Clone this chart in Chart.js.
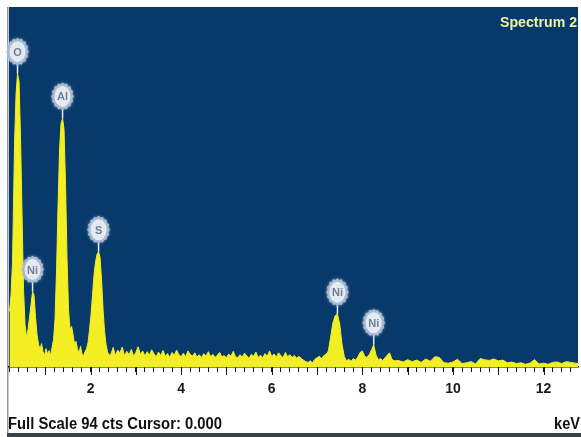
<!DOCTYPE html>
<html>
<head>
<meta charset="utf-8">
<script src="https://cdn.jsdelivr.net/npm/chart.js@4.4.1/dist/chart.umd.min.js"></script>
<style>
  html, body { margin: 0; padding: 0; background: #fff; }
  #wrap { width: 581px; height: 437px; }
</style>
</head>
<body>
<div id="wrap"><canvas id="spectrum" width="581" height="437"></canvas></div>
<script>
// energy (keV) and counts
const energies = [
  0.21, 0.245, 0.278, 0.30, 0.322, 0.355, 0.388, 0.422, 0.455, 0.488, 0.521, 0.554, 0.588, 0.62, 0.653,
  0.687, 0.72, 0.753, 0.786, 0.819, 0.852, 0.885, 0.918, 0.951, 0.985, 1.018, 1.051, 1.084, 1.117, 1.15,
  1.183, 1.216, 1.25, 1.283, 1.316, 1.349, 1.382, 1.415, 1.448, 1.481, 1.514, 1.547, 1.581, 1.614, 1.647,
  1.68, 1.713, 1.746, 1.779, 1.812, 1.846, 1.879, 1.912, 1.945, 1.978, 2.011, 2.044, 2.077, 2.111, 2.144,
  2.177, 2.21, 2.243, 2.276, 2.309, 2.342, 2.375, 2.408,
  2.45, 2.50, 2.55, 2.60, 2.65, 2.70, 2.75, 2.80, 2.85, 2.90, 2.95, 3.00, 3.05, 3.10, 3.15, 3.20, 3.25,
  3.30, 3.35, 3.40, 3.45, 3.50, 3.55, 3.60, 3.65, 3.70, 3.75, 3.80, 3.85, 3.90, 3.95, 4.00, 4.05, 4.10,
  4.15, 4.20, 4.25, 4.30, 4.35, 4.40, 4.45, 4.50, 4.55, 4.60, 4.65, 4.70, 4.75, 4.80, 4.85, 4.90, 4.95,
  5.00, 5.05, 5.10, 5.15, 5.20, 5.25, 5.30, 5.35, 5.40, 5.45, 5.50, 5.55, 5.60, 5.65, 5.70, 5.75, 5.80,
  5.85, 5.90, 5.95, 6.00, 6.05, 6.10, 6.15, 6.20, 6.25, 6.30, 6.35, 6.40, 6.45, 6.50, 6.55, 6.60, 6.65,
  6.70, 6.75, 6.80, 6.85, 6.90, 6.95, 7.00, 7.05, 7.10, 7.15, 7.20, 7.25, 7.30, 7.35, 7.40, 7.45, 7.50,
  7.55, 7.60, 7.65, 7.70, 7.75, 7.80, 7.85, 7.90, 7.95, 8.00, 8.05, 8.10, 8.15, 8.20, 8.25, 8.30, 8.35,
  8.40, 8.45, 8.50, 8.55, 8.60, 8.65, 8.70,
  8.8, 8.9, 9.0, 9.1, 9.2, 9.3, 9.4, 9.5, 9.6, 9.7, 9.8, 9.9, 10.0, 10.1, 10.2, 10.3, 10.4, 10.5, 10.6,
  10.7, 10.8, 10.9, 11.0, 11.1, 11.2, 11.3, 11.4, 11.5, 11.6, 11.7, 11.8, 11.9, 12.0, 12.1, 12.2, 12.3,
  12.4, 12.5, 12.6, 12.7, 12.8
];
const counts = [
  14.5, 18.9, 27.5, 42.4, 58.1, 71.1, 76.6, 74.5, 59.4, 39.8, 20.2, 11.1, 7.7, 9.8, 12.9,
  16.3, 19.7, 18.7, 12.9, 8.5, 5.9, 4.6, 6.1, 4.0, 3.0, 4.8, 3.3, 4.3, 3.0, 5.1,
  7.2, 12.4, 25.4, 42.4, 56.8, 63.6, 64.9, 62.0, 47.6, 28.1, 15.0, 9.8, 10.6, 8.5, 5.9,
  6.7, 4.6, 3.8, 5.4, 3.3, 3.0, 4.0, 4.8, 6.4, 9.8, 13.7, 18.9, 24.1, 27.5, 29.4,
  30.1, 28.6, 22.8, 15.0, 9.3, 5.9, 4.0, 3.0,
  3.4, 5.1, 3.0, 4.4, 3.7, 5.2, 2.9, 4.1, 3.2, 4.6, 2.8, 3.8, 5.3, 3.3, 4.2, 2.9, 4.0,
  3.1, 4.5, 3.4, 2.7, 3.9, 3.0, 4.3, 2.8, 3.5, 2.5, 3.8, 3.1, 4.4, 3.2, 2.7, 3.6, 2.6,
  4.2, 3.3, 2.8, 3.7, 2.6, 3.2, 2.5, 3.5, 2.9, 4.0, 2.7, 3.3, 2.5, 3.1, 3.8, 2.6, 3.0,
  2.4, 3.4, 2.8, 4.1, 2.7, 2.4, 3.2, 2.6, 3.6, 2.9, 2.3, 3.3, 2.8, 3.9, 2.5, 3.1, 2.4,
  3.5, 2.8, 4.2, 2.7, 3.4, 2.6, 3.7, 3.0, 2.4, 3.8, 2.7, 3.2, 2.5, 3.0, 2.3, 2.8, 2.2,
  1.8, 1.4, 1.2, 1.6, 1.1, 2.0, 2.4, 2.8, 2.2, 3.0, 3.3, 4.2, 7.8, 11.5, 13.4, 13.8, 11.2,
  6.0, 2.8, 1.6, 2.0, 1.5, 2.2, 1.8, 2.6, 3.8, 4.2, 2.8, 2.5, 3.2, 4.4, 5.8, 3.2, 1.9,
  2.2, 1.7, 2.4, 3.1, 3.7, 2.1, 1.6,
  1.7, 1.3, 1.9, 1.4, 1.8, 1.2, 2.1, 1.5, 2.7, 2.5, 1.1, 1.0, 1.3, 2.0, 0.9, 1.1, 1.4, 0.8, 2.2,
  1.9, 1.7, 2.1, 1.6, 1.8, 1.1, 1.3, 0.9, 1.1, 0.7, 1.0, 1.9, 0.8, 1.0, 0.7, 1.2, 1.3,
  0.9, 1.4, 1.2, 1.0, 0.9
];

// element markers
const peakNames = ['O', 'Ni', 'Al', 'S', 'Ni', 'Ni'];
const peakEnergies = [0.388, 0.72, 1.382, 2.177, 7.45, 8.25];
const peakCounts = [76.6, 19.7, 64.9, 30.1, 13.8, 5.8];

// axis
const tickLabels = [2, 4, 6, 8, 10, 12];
const majorTicks = [1, 2, 3, 4, 5, 6, 7, 8, 9, 10, 11, 12];
const fullScale = 94;

const PLOT_BG = '#08396b';
const YELLOW = '#f3ef22';
const SANS = '"Liberation Sans", Arial, sans-serif';

function scallop(ctx, cx, cy, rx, ry) {
    ctx.beginPath();
    const n = 16;
    for (let i = 0; i <= n * 2; i++) {
        const a = i / (n * 2) * Math.PI * 2;
        const k = i % 2 ? 0 : 1.4;
        const px = cx + Math.cos(a) * (rx + k), py = cy + Math.sin(a) * (ry + k);
        if (i === 0) ctx.moveTo(px, py); else ctx.lineTo(px, py);
    }
    ctx.closePath();
}

// narrow text: squeeze a bold face to a target width
function squeezed(ctx, text, x, y, width, align) {
    const w = ctx.measureText(text).width;
    const s = width / w;
    ctx.save();
    ctx.translate(align === 'right' ? x - width : x, y);
    ctx.scale(s, 1);
    ctx.textAlign = 'left';
    ctx.fillText(text, 0, 0);
    ctx.restore();
}

const spectrumDecor = {
    id: 'spectrumDecor',
    beforeDraw(chart) {
        const { ctx, chartArea: a } = chart;
        ctx.save();
        ctx.fillStyle = '#fff';
        ctx.fillRect(0, 0, chart.width, chart.height);
        ctx.fillStyle = PLOT_BG;
        ctx.fillRect(a.left, a.top, a.right - a.left, a.bottom - a.top);
        // grey frame on the left and along the bottom
        ctx.fillStyle = '#8d959e';
        ctx.fillRect(a.left - 2, a.top, 1.5, chart.height - a.top);
        ctx.fillStyle = '#3c4148';
        ctx.fillRect(a.left - 2, chart.height - 4, chart.width, 4);
        ctx.restore();
    },
    afterDatasetsDraw(chart) {
        const { ctx, chartArea: a } = chart;
        const x = chart.scales.x, y = chart.scales.y;
        ctx.save();
        peakNames.forEach((name, i) => {
            const px = x.getPixelForValue(peakEnergies[i]);
            const py = y.getPixelForValue(peakCounts[i]);
            const cy = py - 22;
            ctx.strokeStyle = '#e6edf5';
            ctx.lineWidth = 1.5;
            ctx.beginPath();
            ctx.moveTo(px, cy + 12);
            ctx.lineTo(px, py);
            ctx.stroke();
            ctx.shadowColor = 'rgba(220,232,245,0.6)';
            ctx.shadowBlur = 3;
            ctx.fillStyle = '#a9bad0';
            scallop(ctx, px, cy, 10, 12.5);
            ctx.fill();
            ctx.shadowBlur = 0;
            ctx.fillStyle = '#e4eaf1';
            ctx.beginPath();
            ctx.ellipse(px, cy, 8, 10.5, 0, 0, Math.PI * 2);
            ctx.fill();
            ctx.fillStyle = '#717f90';
            ctx.font = 'bold 11px ' + SANS;
            ctx.textAlign = 'center';
            ctx.textBaseline = 'middle';
            ctx.fillText(name, px, cy + 1);
        });
        ctx.fillStyle = '#eef2a6';
        ctx.font = 'bold 14px ' + SANS;
        ctx.textBaseline = 'alphabetic';
        squeezed(ctx, 'Spectrum 2', a.right - 1, a.top + 20, 77, 'right');
        ctx.restore();
    },
    afterDraw(chart) {
        const { ctx, chartArea: a } = chart;
        const x = chart.scales.x;
        ctx.save();
        ctx.strokeStyle = '#111';
        ctx.lineWidth = 1;
        majorTicks.forEach(v => {
            const px = Math.round(x.getPixelForValue(v)) + 0.5;
            ctx.beginPath();
            ctx.moveTo(px, a.bottom);
            ctx.lineTo(px, a.bottom + 8);
            ctx.stroke();
        });
        ctx.fillStyle = '#111';
        ctx.font = 'bold 16px ' + SANS;
        ctx.textBaseline = 'alphabetic';
        squeezed(ctx, 'Full Scale ' + fullScale + ' cts Cursor: 0.000', 8, 429, 214, 'left');
        squeezed(ctx, 'keV', chart.width - 1, 429, 26, 'right');
        ctx.restore();
    }
};

new Chart(document.getElementById('spectrum'), {
    type: 'line',
    data: {
        datasets: [{
            data: energies.map((e, i) => ({ x: e, y: counts[i] })),
            borderColor: YELLOW,
            backgroundColor: YELLOW,
            borderWidth: 1,
            fill: 'origin',
            pointRadius: 0,
            tension: 0
        }]
    },
    options: {
        responsive: false,
        animation: false,
        layout: { padding: { left: 9, right: 3, top: 7, bottom: 10 } },
        plugins: { legend: { display: false }, tooltip: { enabled: false } },
        scales: {
            x: {
                type: 'linear',
                min: 0.2,
                max: 12.76,
                afterFit: (scale) => { scale.height = 60; },
                grid: { drawOnChartArea: false, tickLength: 5, color: '#111', lineWidth: 1 },
                border: { display: true, color: '#000', width: 1.5 },
                ticks: {
                    stepSize: 0.2,
                    autoSkip: false,
                    includeBounds: false,
                    maxRotation: 0,
                    padding: 9,
                    color: '#1a1a1a',
                    font: { family: SANS, size: 14, weight: 'bold' },
                    callback: (v) => {
                        const r = Math.round(v * 10) / 10;
                        return tickLabels.includes(r) ? String(r) : '';
                    }
                }
            },
            y: { display: false, min: 0, max: fullScale }
        }
    },
    plugins: [spectrumDecor]
});
</script>
</body>
</html>
